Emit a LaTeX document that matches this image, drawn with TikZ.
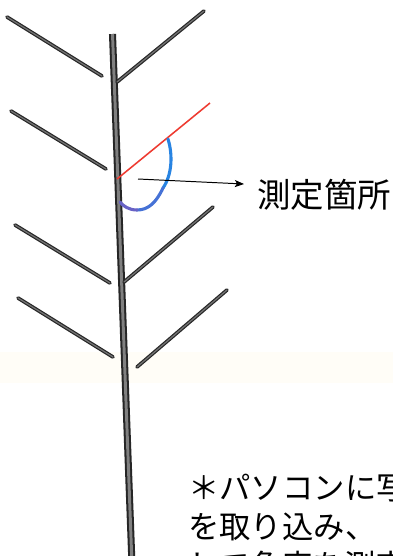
\documentclass[tikz,border=0pt]{standalone}
\usepackage{fontspec}
\newfontfamily\jpfont{Noto Sans CJK JP}
\usetikzlibrary{arrows.meta}

\definecolor{scanband}{RGB}{255,253,247}
\definecolor{cutred}{RGB}{238,58,48}
\definecolor{arcblue}{RGB}{40,132,226}
\definecolor{arcmid}{RGB}{70,114,214}
\definecolor{arcviolet}{RGB}{104,98,198}

\begin{document}
\begin{tikzpicture}[scale=0.25,
      stalk/.style={draw=black!85, line width=1.45pt, double=black!50, double distance=2.1pt},
      twig/.style={draw=black!85, line width=0.85pt, double=black!55, double distance=0.9pt, line cap=round},
      arcpart/.style={line width=2.2pt, line cap=round},
      notetext/.style={anchor=west, font=\jpfont\fontsize{22.3pt}{26pt}\selectfont}]
      \tikzstyle{every node}+=[inner sep=0pt]
      % page and the faint band across it
      \clip (0,0) rectangle (39.3,-55.6);
      \fill [white] (0,0) rectangle (39.3,-55.6);
      \fill [scanband] (0,-35.2) rectangle (39.3,-38.3);
      % main stem
      \draw [stalk] (11.25,-3.4) -- (13.2,-56.5);
      % left branches
      \draw [twig] (0.7,-1.7) -- (10.2,-7.6);
      \draw [twig] (1.1,-11.1) -- (10.6,-16.9);
      \draw [twig] (1.5,-22.5) -- (11.0,-28.3);
      \draw [twig] (1.8,-29.8) -- (11.3,-35.7);
      % right branches
      \draw [twig] (20.4,-1.1) -- (11.7,-8.2);
      \draw [twig] (21.3,-20.7) -- (12.4,-28.2);
      \draw [twig] (22.7,-29.0) -- (13.7,-36.7);
      % cut line and angle arc
      \draw [cutred, line width=1.1pt] (11.7,-17.9) -- (21.0,-10.3);
      \draw [arcpart, arcblue] (16.8,-13.9) .. controls (17.3,-15.5) and (17.2,-17.5) .. (16.3,-18.8);
      \draw [arcpart, arcmid] (16.3,-18.8) .. controls (15.6,-20.3) and (14.8,-21) .. (13.7,-21);
      \draw [arcpart, arcviolet] (13.7,-21) .. controls (12.9,-21) and (12.3,-20.6) .. (12.0,-20.2);
      % pointer to the label
      \coordinate (probe) at (13.8,-17.9);
      \coordinate (tip) at (24.4,-18.4);
      \node [anchor=west] (site) at (25.7,-19.5) {\jpfont\fontsize{23.8pt}{28pt}\selectfont 測定箇所};
      \draw [black, line width=0.7pt, -{Stealth[length=6.5pt, width=5pt, inset=1.5pt]}] (probe) -- (tip);
      % note below
      \node [notetext] (note1) at (18.8,-48.8) {＊パソコンに写};
      \node [notetext] (note2) at (18.8,-52.7) {を取り込み、};
      \node [notetext] (note3) at (18.8,-56.6) {して角度を測定};
\end{tikzpicture}
\end{document}
